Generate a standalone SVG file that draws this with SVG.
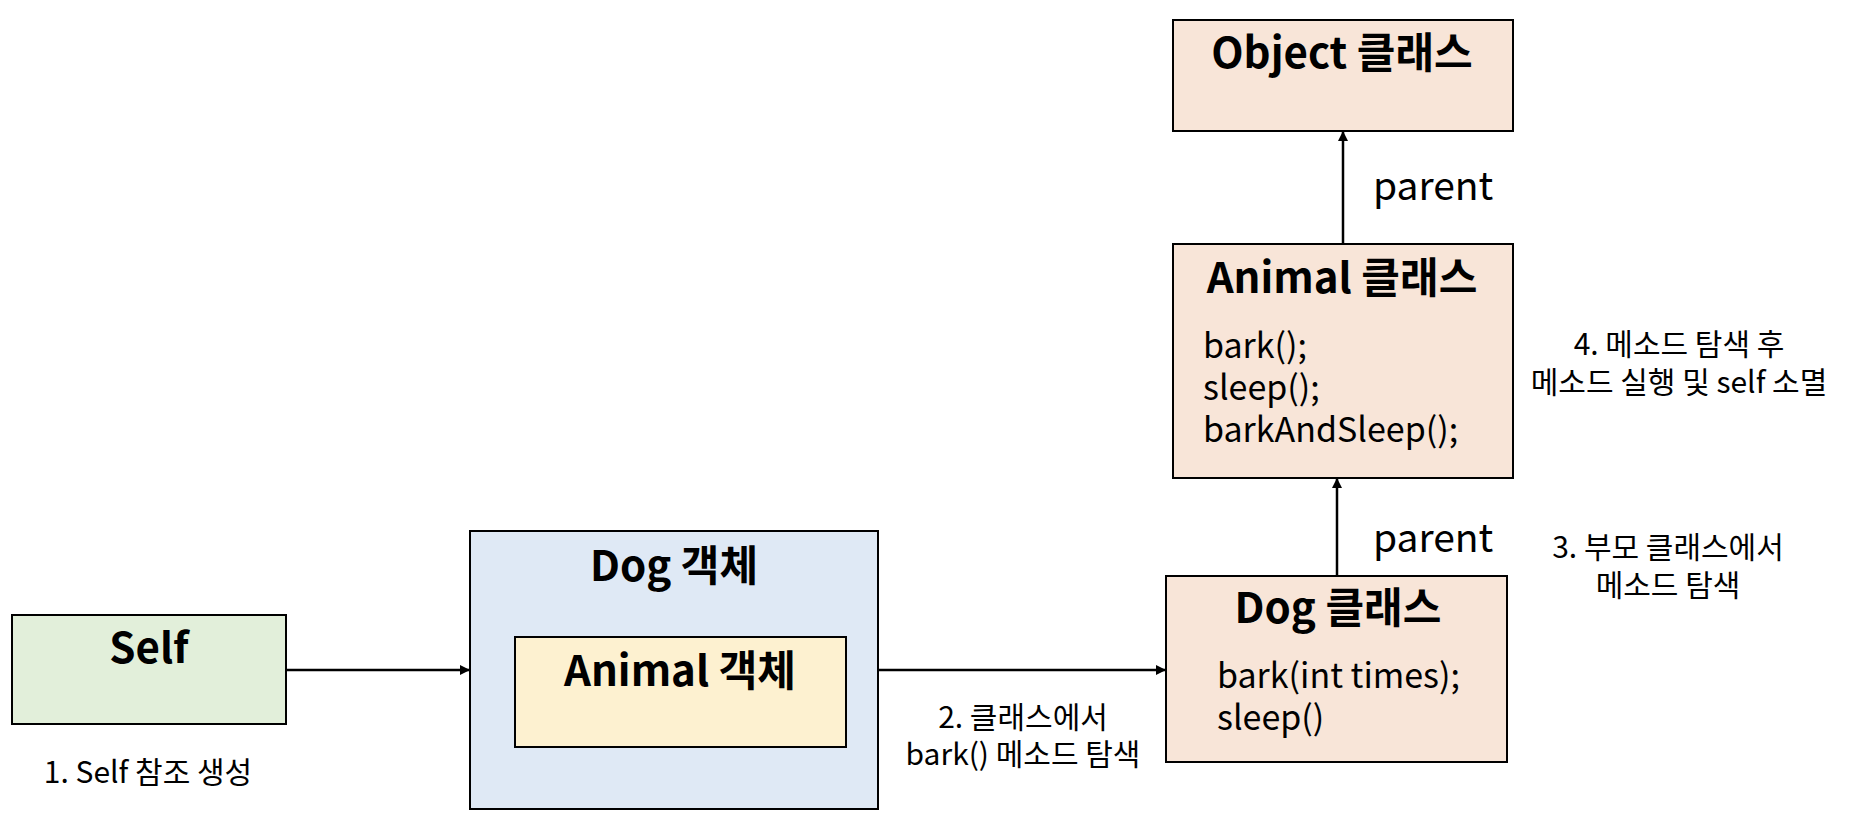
<svg xmlns="http://www.w3.org/2000/svg" width="1858" height="838" viewBox="0 0 1858 838">
<defs>
<marker id="ah" viewBox="0 0 10 10" refX="10" refY="5" markerWidth="10" markerHeight="10" markerUnits="userSpaceOnUse" orient="auto">
<path d="M0,0 L10,5 L0,10 z" fill="#000"/>
</marker>
<style>
text{font-family:"Noto Sans CJK KR","Noto Sans",sans-serif;fill:#000}
.title{font-size:42px;font-weight:bold;text-anchor:middle}
.body{font-size:34px}
.lbl{font-size:39px}
.note{font-size:30px;text-anchor:middle}
.box{stroke:#000;stroke-width:2}
.cls{fill:#f8e5d8}
.edge{stroke:#000;stroke-width:2.5;fill:none;marker-end:url(#ah)}
</style>
</defs>
<rect width="1858" height="838" fill="#fff"/>
<g id="self">
<rect class="box" x="12" y="615" width="274" height="109" fill="#e2efda"/>
<text class="title" x="149" y="663">Self</text>
</g>
<g id="dog-obj">
<rect class="box" x="470" y="531" width="408" height="278" fill="#dfe9f5"/>
<text class="title" x="674" y="581">Dog 객체</text>
</g>
<g id="animal-obj">
<rect class="box" x="515" y="637" width="331" height="110" fill="#fdf1d0"/>
<text class="title" x="680" y="686">Animal 객체</text>
</g>
<g id="dog-class">
<rect class="box cls" x="1166" y="576" width="341" height="186"/>
<text class="title" x="1338" y="623">Dog 클래스</text>
<text class="body" x="1217" y="688">bark(int times);</text>
<text class="body" x="1217" y="730">sleep()</text>
</g>
<g id="animal-class">
<rect class="box cls" x="1173" y="244" width="340" height="234"/>
<text class="title" x="1342" y="293">Animal 클래스</text>
<text class="body" x="1203" y="358">bark();</text>
<text class="body" x="1203" y="400">sleep();</text>
<text class="body" x="1203" y="442">barkAndSleep();</text>
</g>
<g id="object-class">
<rect class="box cls" x="1173" y="20" width="340" height="111"/>
<text class="title" x="1342" y="68">Object 클래스</text>
</g>
<g id="connectors">
<line class="edge" x1="286" y1="670" x2="470" y2="670"/>
<line class="edge" x1="878" y1="670" x2="1166" y2="670"/>
<line class="edge" x1="1337" y1="576" x2="1337" y2="478"/>
<line class="edge" x1="1343" y1="244" x2="1343" y2="131"/>
</g>
<g id="labels">
<text class="lbl" x="1373" y="200">parent</text>
<text class="lbl" x="1373" y="552">parent</text>
<text class="note" x="148" y="783">1. Self 참조 생성</text>
<text class="note" x="1023" y="728">2. 클래스에서</text>
<text class="note" x="1023" y="765">bark() 메소드 탐색</text>
<text class="note" x="1668" y="558">3. 부모 클래스에서</text>
<text class="note" x="1668" y="596">메소드 탐색</text>
<text class="note" x="1679" y="355">4. 메소드 탐색 후</text>
<text class="note" x="1679" y="393">메소드 실행 및 self 소멸</text>
</g>
</svg>
